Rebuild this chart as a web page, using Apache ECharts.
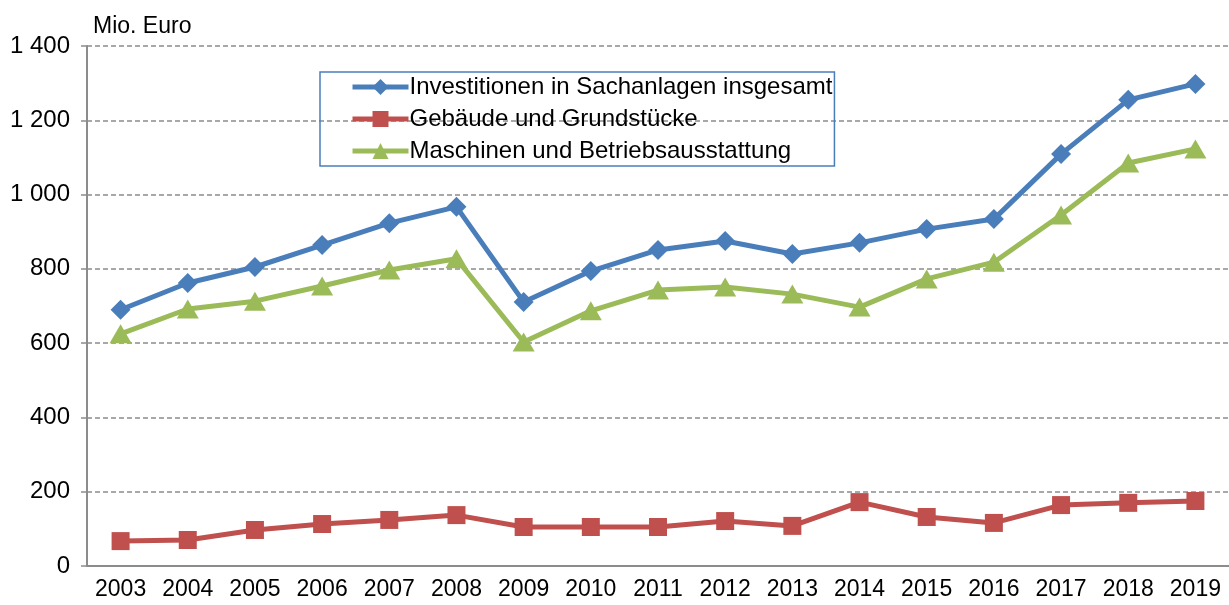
<!DOCTYPE html>
<html>
<head>
<meta charset="utf-8">
<script src="https://cdn.jsdelivr.net/npm/echarts@6/dist/echarts.min.js"></script>
<style>
  html, body { margin: 0; padding: 0; background: #fff; }
  #chart { width: 1229px; height: 605px; }
</style>
</head>
<body>
<div id="chart"></div>
<script>
// Jahre
let years = ['2003', '2004', '2005', '2006', '2007', '2008', '2009', '2010', '2011', '2012', '2013', '2014', '2015', '2016', '2017', '2018', '2019']
// Investitionen in Sachanlagen insgesamt
let totalInvest = [690, 762, 805, 864, 923, 967, 711, 794, 851, 875, 840, 870, 907, 934, 1109, 1255, 1298]
// Gebäude und Grundstücke
let buildings = [67, 70, 97, 113, 124, 137, 105, 105, 105, 121, 108, 172, 132, 116, 164, 170, 175]
// Maschinen und Betriebsausstattung
let machines = [625, 692, 713, 754, 797, 827, 603, 687, 743, 751, 732, 697, 773, 818, 945, 1085, 1123]
let seriesNames = ['Investitionen in Sachanlagen insgesamt', 'Gebäude und Grundstücke', 'Maschinen und Betriebsausstattung']

let font = "'Liberation Sans', Arial, sans-serif"
let gray = '#8c8c8c'

let myCharts = echarts.init(document.getElementById('chart'))
myCharts.setOption({
  animation: false,
  color: ['#4a7ebb', '#c0504d', '#9bbb59'],
  title: {
    text: 'Mio. Euro',
    left: 88,
    top: 10,
    textStyle: { fontFamily: font, fontSize: 23, fontWeight: 'normal', color: '#000' }
  },
  legend: {
    orient: 'vertical',
    left: 320,
    top: 72,
    data: seriesNames,
    borderColor: '#4a7ebb',
    borderWidth: 1.5,
    padding: [3, 2, 3, 30],
    itemWidth: 56,
    itemHeight: 20,
    itemGap: 8,
    lineStyle: { width: 5 },
    textStyle: { fontFamily: font, fontSize: 24, color: '#000', padding: [0, 0, 0, -4] }
  },
  grid: {
    left: 87,
    right: -5,
    top: 46,
    bottom: 39
  },
  xAxis: {
    type: 'category',
    data: years,
    boundaryGap: true,
    axisLine: { lineStyle: { color: gray, width: 2 } },
    axisTick: { alignWithLabel: true, length: 6, lineStyle: { color: gray, width: 1.5 } },
    axisLabel: { fontFamily: font, fontSize: 23, color: '#000', margin: 12, interval: 0 }
  },
  yAxis: {
    type: 'value',
    min: 0,
    max: 1400,
    interval: 200,
    axisLine: { show: true, lineStyle: { color: gray, width: 2 } },
    axisTick: { show: true, length: 6, lineStyle: { color: gray, width: 1.5 } },
    splitLine: { lineStyle: { color: gray, width: 1.5, type: [5, 3] } },
    axisLabel: {
      fontFamily: font,
      fontSize: 24,
      color: '#000',
      margin: 17,
      formatter: function (value) {
        return String(value).replace(/\B(?=(\d{3})+(?!\d))/g, ' ')
      }
    }
  },
  series: [
    {
      name: seriesNames[0],
      type: 'line',
      data: totalInvest,
      symbol: 'diamond',
      symbolSize: 20,
      lineStyle: { width: 5 },
      z: 3
    },
    {
      name: seriesNames[1],
      type: 'line',
      data: buildings,
      symbol: 'rect',
      symbolSize: 18,
      lineStyle: { width: 5 },
      z: 2
    },
    {
      name: seriesNames[2],
      type: 'line',
      data: machines,
      symbol: 'triangle',
      symbolSize: [22, 19],
      lineStyle: { width: 5 },
      z: 2
    }
  ]
})
</script>
</body>
</html>
